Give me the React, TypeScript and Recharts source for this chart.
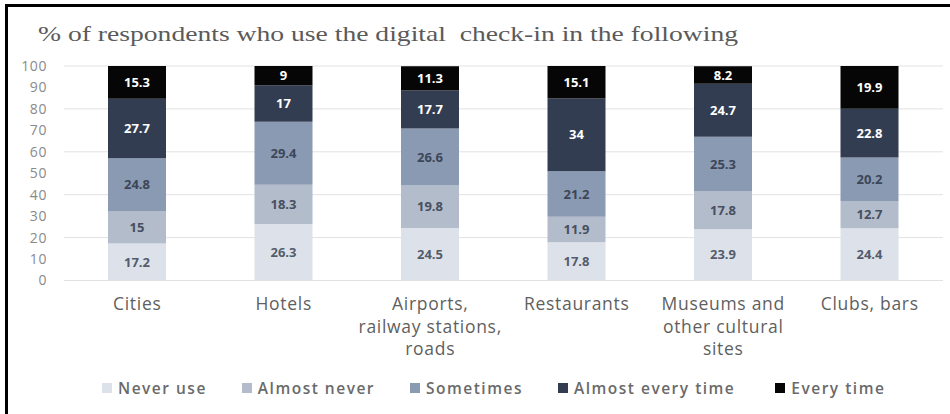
import React from "react";
import { BarChart, Bar, XAxis, YAxis, CartesianGrid, LabelList } from "recharts";

const categories = ["Cities", "Hotels", "Airports, railway stations, roads", "Restaurants", "Museums and other cultural sites", "Clubs, bars"];
const categoryLines = [["Cities"], ["Hotels"], ["Airports,", "railway stations,", "roads"], ["Restaurants"], ["Museums and", "other cultural", "sites"], ["Clubs, bars"]];

const neverUse = [17.2, 26.3, 24.5, 17.8, 23.9, 24.4];
const almostNever = [15, 18.3, 19.8, 11.9, 17.8, 12.7];
const sometimes = [24.8, 29.4, 26.6, 21.2, 25.3, 20.2];
const almostEveryTime = [27.7, 17, 17.7, 34, 24.7, 22.8];
const everyTime = [15.3, 9, 11.3, 15.1, 8.2, 19.9];

const yTicks = [0, 10, 20, 30, 40, 50, 60, 70, 80, 90, 100];

const series = [
  { key: "never", name: "Never use", values: neverUse, color: "#dde2ea", text: "#545c6c" },
  { key: "almostNever", name: "Almost never", values: almostNever, color: "#b3bccb", text: "#474f60" },
  { key: "sometimes", name: "Sometimes", values: sometimes, color: "#8a9ab3", text: "#3c4658" },
  { key: "almostEvery", name: "Almost every time", values: almostEveryTime, color: "#333d52", text: "#ffffff" },
  { key: "every", name: "Every time", values: everyTime, color: "#060606", text: "#ffffff" },
];

const data = categories.map((name, i) => {
  const row: Record<string, any> = { name };
  series.forEach((s) => (row[s.key] = s.values[i]));
  return row;
});

const FONT = "'Open Sans', sans-serif";

const CategoryTick = (props: any) => {
  const { x, y, index } = props;
  const lines = categoryLines[index] || [props.payload.value];
  return (
    <text x={x} y={y} textAnchor="middle" fill="#5f5f5f" fontSize={17.5} letterSpacing={0.7} fontFamily={FONT}>
      {lines.map((l: string, i: number) => (
        <tspan key={i} x={x} dy={i === 0 ? 29.5 : 22.5}>
          {l}
        </tspan>
      ))}
    </text>
  );
};

export default function App() {
  return (
    <div style={{ position: "fixed", left: 0, top: 0, width: 950, height: 414, background: "#fff", overflow: "hidden" }}>
      <svg style={{ position: "absolute", left: 0, top: 0, display: "block" }} width={950} height={60}>
        <text x={38} y={41} fill="#5a5a5a" fontSize={22} fontFamily="'Liberation Serif', serif" textLength={700} lengthAdjust="spacingAndGlyphs" style={{ whiteSpace: "pre" }}>
          % of respondents who use the digital  check-in in the following
        </text>
        <line x1={6.5} y1={4} x2={6.5} y2={60} stroke="#000" strokeWidth={3} />
        <line x1={5} y1={5.5} x2={950} y2={5.5} stroke="#000" strokeWidth={3} />
      </svg>
      <div style={{ position: "absolute", left: 0, top: 0 }}>
        <BarChart width={950} height={414} data={data} margin={{ top: 66, right: 7, bottom: 0, left: 24 }}>
          <CartesianGrid vertical={false} stroke="#e2e2e2" />
          <XAxis dataKey="name" axisLine={false} tickLine={false} tickSize={0} tickMargin={0} height={133.5} interval={0} tick={<CategoryTick />} />
          <YAxis
            domain={[0, 100]}
            ticks={yTicks}
            axisLine={false}
            tickLine={false}
            tickSize={0}
            tickMargin={17}
            width={40}
            tick={{ fill: "#8a8a8a", fontSize: 14, letterSpacing: 0.6, fontFamily: FONT }}
          />
          {series.map((s) => (
            <Bar key={s.key} dataKey={s.key} name={s.name} stackId="a" fill={s.color} barSize={58} isAnimationActive={false}>
              <LabelList dataKey={s.key} position="center" fill={s.text} fontSize={13} fontWeight={700} fontFamily={FONT} />
            </Bar>
          ))}
        </BarChart>
      </div>
      <div style={{ position: "absolute", left: 5, top: 58, width: 3, height: 356, background: "#000" }} />
      <div
        style={{
          position: "absolute",
          left: 102,
          top: 377,
          display: "flex",
          alignItems: "center",
          fontFamily: FONT,
          fontSize: 15.5,
          fontWeight: 600,
          letterSpacing: 1.5,
          color: "#6a6a6a",
          whiteSpace: "nowrap",
        }}
      >
        {series.map((s, i) => (
          <div key={s.key} style={{ display: "flex", alignItems: "center", marginRight: i === 3 ? 40 : 35 }}>
            <span style={{ display: "inline-block", width: 10, height: 10, background: s.color, marginRight: 6 }} />
            <span>{s.name}</span>
          </div>
        ))}
      </div>
    </div>
  );
}
